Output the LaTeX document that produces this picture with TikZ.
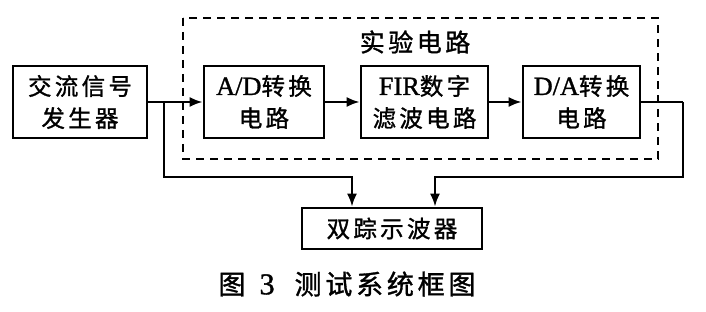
\documentclass[tikz,border=0pt]{standalone}
\usepackage{fontspec}
\setmainfont[Scale=1.12,FakeBold=1.2]{Liberation Serif}
\newfontfamily\cjk[LetterSpace=14,FakeBold=1.2]{Noto Sans CJK SC}
\usetikzlibrary{arrows.meta}
\newcommand{\lat}[1]{{\rmfamily #1}}
\begin{document}
\begin{tikzpicture}[x=1pt,y=-1pt,
  blk/.style={draw,line width=2.6pt,minimum height=72pt,inner sep=0pt,align=center,
    font=\fontsize{23.5}{32}\selectfont\cjk},
  arr/.style={line width=2.4pt,-{Latex[length=13pt,width=10pt]}},
  ln/.style={line width=2.4pt}]
\useasboundingbox (0,0) rectangle (706,312);
\draw[line width=2.4pt,dash pattern=on 8pt off 6pt] (183,18) rectangle (658,159);
\node[font=\fontsize{25}{28}\selectfont\cjk] (lab) at (415,42) {实验电路};
\node[blk,minimum width=134pt] (gen) at (80,102) {交流信号\\发生器};
\node[blk,minimum width=120pt] (ad) at (264,102) {\lat{A/D}转换\\电路};
\node[blk,minimum width=127pt] (fir) at (424.5,102) {\lat{FIR}数字\\滤波电路};
\node[blk,minimum width=117pt] (da) at (581.5,102) {\lat{D/A}转换\\电路};
\node[blk,minimum width=180pt,minimum height=41pt] (sc) at (392,228.5) {双踪示波器};
\node[font=\fontsize{27}{30}\selectfont\cjk] (cap) at (347,284) {图\hspace{14pt}\lat{3}\hspace{20pt}测试系统框图};
\draw[arr] (gen.east) -- (ad.west);
\draw[arr] (ad.east) -- (fir.west);
\draw[arr] (fir.east) -- (da.west);
\coordinate (j1) at (164,102);
\coordinate (k1) at (352,177);
\draw[arr] (j1) |- (k1) -- (k1 |- sc.north);
\coordinate (j2) at (683,102);
\coordinate (k2) at (435,177);
\draw[ln] (da.east) -- (j2);
\draw[arr] (j2) |- (k2) -- (k2 |- sc.north);
\end{tikzpicture}
\end{document}
